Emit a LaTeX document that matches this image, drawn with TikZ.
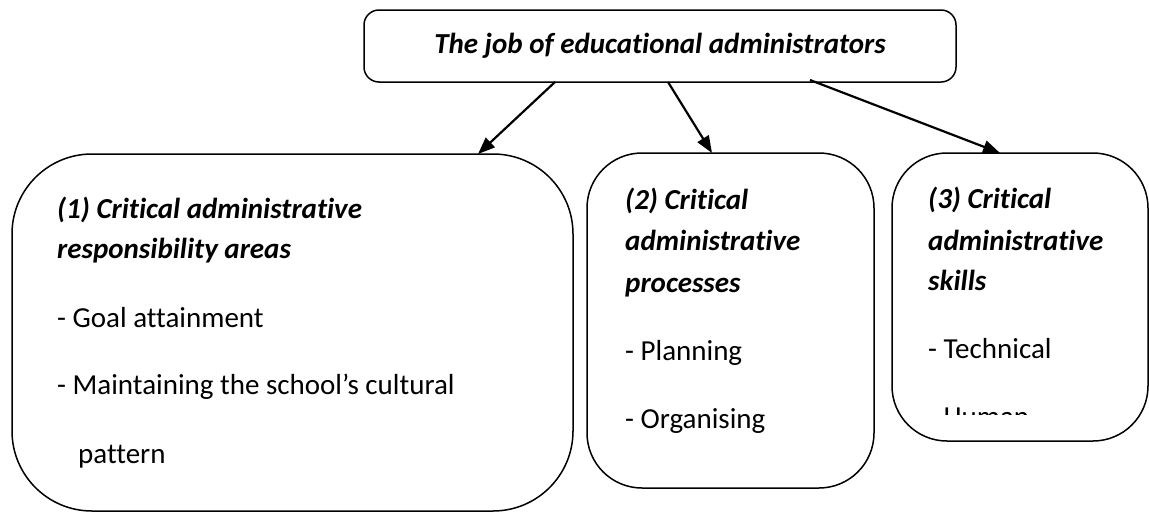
\documentclass[tikz,border=0pt]{standalone}
\usepackage{fontspec}
\setmainfont{Carlito}[Ligatures={NoCommon,NoContextual}]
\usetikzlibrary{arrows.meta}
\begin{document}
\begin{tikzpicture}[x=1pt,y=-1pt,
  frame/.style={draw=black,line width=1.5pt,inner sep=0pt,outer sep=0pt},
  headline/.style={anchor=base west,inner sep=0pt,font=\fontsize{29}{35}\selectfont\bfseries\itshape},
  itemline/.style={anchor=base west,inner sep=0pt,font=\fontsize{29}{35}\selectfont},
  link/.style={draw=black,line width=2.2pt,-{Triangle[length=17pt,width=13pt]}}]
\useasboundingbox (0,0) rectangle (1149,512);

% top box
\node[frame,rounded corners=15pt,minimum width=592pt,minimum height=72pt] (top) at (660,46) {};
\node[headline,anchor=base] (toptext) at (660,53) {The job of educational administrators};

% three category boxes
\node[frame,rounded corners=80pt,minimum width=561pt,minimum height=357pt] (b1) at (292.5,332.5) {};
\node[frame,rounded corners=55pt,minimum width=287pt,minimum height=335pt] (b2) at (730.5,320.5) {};
\node[frame,rounded corners=55pt,minimum width=256pt,minimum height=288pt] (b3) at (1020,297) {};

% box 1 text
\node[headline] (h1a) at (57,218) {(1) Critical administrative};
\node[headline] (h1b) at (57,258) {responsibility areas};
\node[itemline] (i1a) at (57,327) {- Goal attainment};
\node[itemline] (i1b) at (57,394) {- Maintaining the school’s cultural};
\node[itemline] (i1c) at (78,463) {pattern};

% box 2 text
\node[headline] (h2a) at (625,209) {(2) Critical};
\node[headline] (h2b) at (625,250) {administrative};
\node[headline] (h2c) at (625,292) {processes};
\node[itemline] (i2a) at (625,360) {- Planning};
\node[itemline] (i2b) at (625,428) {- Organising};

% box 3 text; the last item is cut off by the text area
\node[headline] (h3a) at (928,208) {(3) Critical};
\node[headline] (h3b) at (928,250) {administrative};
\node[headline] (h3c) at (928,290) {skills};
\node[itemline] (i3a) at (928,358) {- Technical};
\begin{scope}
  \clip (880,395) rectangle (1149,414.5);
  \node[itemline] (i3b) at (928,426.5) {- Human};
\end{scope}

% connectors
\draw[link] ([xshift=-105pt]top.south) -- ([xshift=185.5pt]b1.north);
\draw[link] ([xshift=8pt]top.south) -- ([xshift=-18.5pt]b2.north);
\draw[link] ([xshift=150pt,yshift=2pt]top.south) -- ([xshift=-20pt]b3.north);
\end{tikzpicture}
\end{document}
